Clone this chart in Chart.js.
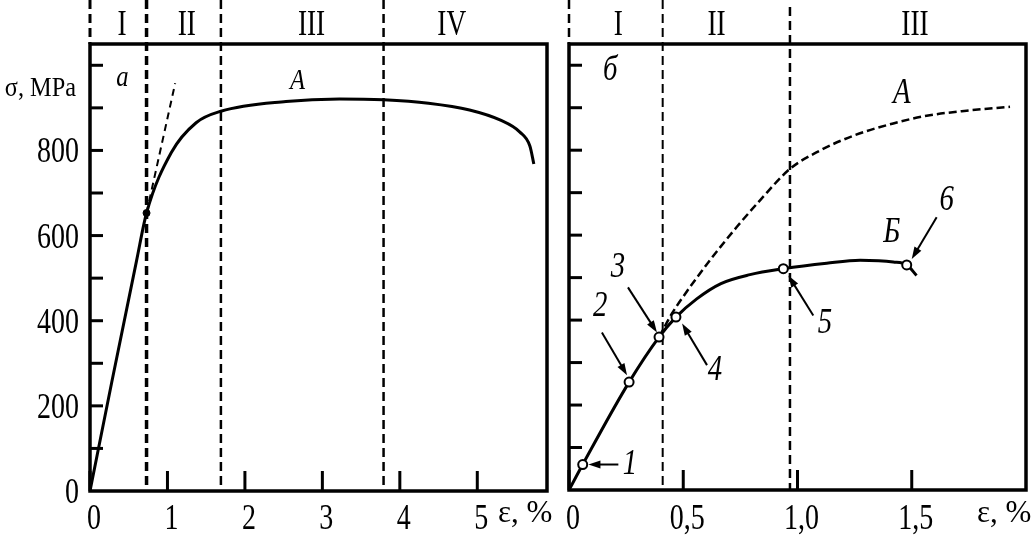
<!DOCTYPE html>
<html>
<head>
<meta charset="utf-8">
<script src="https://cdn.jsdelivr.net/npm/chart.js@4"></script>
<style>
  body { margin: 0; background: #fff; }
  #wrap { position: relative; width: 1034px; height: 538px; }
  .panel { position: absolute; top: 0; height: 538px; }
</style>
</head>
<body>
<div id="wrap">
  <div class="panel" style="left:0;width:555px"><canvas id="chartA"></canvas></div>
  <div class="panel" style="left:555px;width:479px"><canvas id="chartB"></canvas></div>
</div>
<script>
// ---- panel a : stress-strain curve A ----
const leftStrain = [0, 0.28, 0.6, 0.73, 1.05, 1.37, 1.69, 2.53, 3.22, 3.79, 4.37, 4.9, 5.3, 5.55, 5.68, 5.73];
const leftStress = [0, 255, 540, 653, 795, 865, 892, 915, 921, 919, 911, 895, 871, 843, 810, 768];
const tangentStrain = [0.73, 1.10];
const tangentStress = [653, 958];
const leftDotStrain = [0.73];
const leftDotStress = [653];
const leftZoneEdges = [0, 0.73, 1.69, 3.79];
const leftZoneNames = ["I", "II", "III", "IV"];
const leftZoneNameX = [0.415, 1.25, 2.86, 4.67];
const leftXTicks = [0, 1, 2, 3, 4, 5];
const leftXLabels = ["0", "1", "2", "3", "4", "5"];
const leftYTicks = [100, 200, 300, 400, 500, 600, 700, 800, 900, 1000];
const leftYLabels = [0, 200, 400, 600, 800];
const leftNotes = ["а", "А"];
const leftNoteX = [0.42, 2.68];
const leftNoteY = [970, 963];

// ---- panel б : curves A (dashed) and Б with points 1-6 ----
const rightStrainA = [0.394, 0.45, 0.493, 0.617, 0.734, 0.836, 0.967, 1.098, 1.244, 1.419, 1.565, 1.74, 1.93];
const rightStressA = [360, 415, 450, 541, 619, 682, 756, 799, 834, 863, 881, 893, 902];
const rightStrainB = [0, 0.06, 0.263, 0.394, 0.468, 0.559, 0.665, 0.792, 0.938, 1.128, 1.274, 1.419, 1.478, 1.521];
const rightStressB = [0, 60, 254, 360, 407, 450, 486, 507, 521, 534, 541, 537, 530, 505];
const markStrain = [0.06, 0.263, 0.394, 0.468, 0.938, 1.478];
const markStress = [60, 254, 360, 407, 521, 530];
const rightZoneEdges = [0, 0.41, 0.967];
const rightZoneNames = ["I", "II", "III"];
const rightZoneNameX = [0.216, 0.646, 1.514];
const rightXTicks = [0, 0.5, 1.0, 1.5];
const rightXLabels = ["0", "0,5", "1,0", "1,5"];
const rightYTicks = [100, 200, 300, 400, 500, 600, 700, 800, 900, 1000];
const rightNotes = ["1", "2", "3", "4", "5", "6", "Б", "А", "б"];
const rightNoteX = [0.267, 0.136, 0.214, 0.639, 1.12, 1.653, 1.412, 1.456, 0.18];
const rightNoteY = [59, 432, 524, 282, 392, 682, 607, 933, 987];
const arrowFromX = [0.216, 0.144, 0.258, 0.604, 1.069, 1.609];
const arrowFromY = [60, 371, 477, 294, 411, 642];
const arrowToX = [0.085, 0.254, 0.385, 0.495, 0.96, 1.5];
const arrowToY = [60, 270, 371, 392, 505, 544];

function toPoints(xs, ys) {
    return xs.map((x, i) => ({ x: x, y: ys[i] }));
}

// draws squeezed serif text like in the scanned figure
function drawText(ctx, str, x, y, font, align, sx, base) {
    ctx.save();
    ctx.translate(x, y);
    ctx.scale(sx, 1);
    ctx.font = font;
    ctx.fillStyle = "#000";
    ctx.textAlign = align;
    ctx.textBaseline = base || "alphabetic";
    ctx.fillText(str, 0, 0);
    ctx.restore();
}

function drawArrow(ctx, x1, y1, x2, y2) {
    let ang = Math.atan2(y2 - y1, x2 - x1);
    let len = 12, half = 4;
    ctx.save();
    ctx.strokeStyle = "#000";
    ctx.fillStyle = "#000";
    ctx.lineWidth = 2;
    ctx.beginPath();
    ctx.moveTo(x1, y1);
    ctx.lineTo(x2 - Math.cos(ang) * len * 0.8, y2 - Math.sin(ang) * len * 0.8);
    ctx.stroke();
    ctx.beginPath();
    ctx.moveTo(x2, y2);
    ctx.lineTo(x2 - Math.cos(ang) * len - Math.sin(ang) * half, y2 - Math.sin(ang) * len + Math.cos(ang) * half);
    ctx.lineTo(x2 - Math.cos(ang) * len + Math.sin(ang) * half, y2 - Math.sin(ang) * len - Math.cos(ang) * half);
    ctx.closePath();
    ctx.fill();
    ctx.restore();
}

const decorPlugin = {
    id: "decor",
    beforeDatasetsDraw(chart, args, o) {
        const ctx = chart.ctx, area = chart.chartArea, xs = chart.scales.x;
        ctx.save();
        ctx.strokeStyle = "#000";
        o.edges.forEach((v, i) => {
            let px = xs.getPixelForValue(v);
            ctx.lineWidth = o.edgeWidths[i];
            ctx.setLineDash([9, 5]);
            ctx.beginPath();
            ctx.moveTo(px, o.edgeTops[i]);
            ctx.lineTo(px, v === 0 ? area.top : area.bottom);
            ctx.stroke();
        });
        ctx.restore();
    },
    afterDraw(chart, args, o) {
        const ctx = chart.ctx, area = chart.chartArea;
        const xs = chart.scales.x, ys = chart.scales.y;
        const mainFont = '35px "Liberation Serif", "Times New Roman", serif';

        // frame
        ctx.save();
        ctx.strokeStyle = "#000";
        ctx.lineWidth = 3.5;
        ctx.setLineDash([]);
        ctx.strokeRect(area.left, area.top, area.width, area.height);

        // inward tick marks
        ctx.lineWidth = 3;
        o.yTicks.forEach(v => {
            let py = ys.getPixelForValue(v);
            ctx.beginPath();
            ctx.moveTo(area.left, py);
            ctx.lineTo(area.left + 13, py);
            ctx.stroke();
        });
        o.xTicks.forEach(v => {
            let px = xs.getPixelForValue(v);
            ctx.beginPath();
            ctx.moveTo(px, area.bottom);
            ctx.lineTo(px, area.bottom - 20);
            ctx.stroke();
        });
        ctx.restore();

        // tick labels
        (o.yLabels || []).forEach(v => {
            drawText(ctx, String(v), area.left - 11, ys.getPixelForValue(v) + 12, mainFont, "right", 0.8);
        });
        o.xTicks.forEach((v, i) => {
            drawText(ctx, o.xLabels[i], xs.getPixelForValue(v) + 4, 529, mainFont, "center", 0.8);
        });
        drawText(ctx, "ε, %", o.unitX, 522, '31px "Liberation Serif", serif', "left", 1);
        if (o.yTitle) {
            drawText(ctx, o.yTitle, 76, 96, '27px "Liberation Serif", serif', "right", 0.9);
        }

        // stage numerals above the frame
        o.zoneNames.forEach((s, i) => {
            drawText(ctx, s, xs.getPixelForValue(o.zoneNameX[i]), 35, mainFont, "center", 0.78);
        });

        // italic notes
        o.notes.forEach((s, i) => {
            drawText(ctx, s, xs.getPixelForValue(o.noteX[i]), ys.getPixelForValue(o.noteY[i]),
                o.noteFont, "center", o.noteScale, "middle");
        });

        // arrows
        (o.arrows || []).forEach(a => {
            drawArrow(ctx, xs.getPixelForValue(a[0]), ys.getPixelForValue(a[1]),
                xs.getPixelForValue(a[2]), ys.getPixelForValue(a[3]));
        });
    }
};

function baseOptions(xMax, padding, decor) {
    return {
        responsive: true,
        maintainAspectRatio: false,
        animation: false,
        layout: { padding: padding },
        scales: {
            x: { type: "linear", min: 0, max: xMax, display: false },
            y: { type: "linear", min: 0, max: 1050, display: false }
        },
        plugins: {
            legend: { display: false },
            tooltip: { enabled: false },
            decor: decor
        }
    };
}

function createLeftChart() {
    let ctx = document.getElementById("chartA").getContext("2d");
    new Chart(ctx, {
        type: "line",
        data: {
            datasets: [
                {
                    data: toPoints(leftDotStrain, leftDotStress),
                    showLine: false, pointRadius: 3.5,
                    pointBackgroundColor: "#000", pointBorderColor: "#000", order: 0
                },
                {
                    data: toPoints(leftStrain, leftStress),
                    borderColor: "#000", borderWidth: 3, pointRadius: 0,
                    borderJoinStyle: "round",
                    cubicInterpolationMode: "monotone", order: 1
                },
                {
                    data: toPoints(tangentStrain, tangentStress),
                    borderColor: "#000", borderWidth: 2, borderDash: [7, 5], pointRadius: 0, order: 2
                }
            ]
        },
        options: baseOptions(5.9, { left: 90, right: 8, top: 44, bottom: 47 }, {
            edges: leftZoneEdges,
            edgeWidths: [3, 3.5, 2.5, 2.5],
            edgeTops: [0, 0, 0, 0],
            zoneNames: leftZoneNames,
            zoneNameX: leftZoneNameX,
            xTicks: leftXTicks,
            xLabels: leftXLabels,
            yTicks: leftYTicks,
            yLabels: leftYLabels,
            yTitle: "σ, MPa",
            unitX: 498,
            notes: leftNotes,
            noteX: leftNoteX,
            noteY: leftNoteY,
            noteFont: 'italic 29px "Liberation Serif", serif',
            noteScale: 0.85
        }),
        plugins: [decorPlugin]
    });
}

function createRightChart() {
    let ctx = document.getElementById("chartB").getContext("2d");
    let arrows = arrowFromX.map((x, i) => [x, arrowFromY[i], arrowToX[i], arrowToY[i]]);
    new Chart(ctx, {
        type: "line",
        data: {
            datasets: [
                {
                    data: toPoints(markStrain, markStress),
                    showLine: false, pointRadius: 4.5, pointBorderWidth: 2,
                    pointBackgroundColor: "#fff", pointBorderColor: "#000", order: 0
                },
                {
                    data: toPoints(rightStrainB, rightStressB),
                    borderColor: "#000", borderWidth: 3, pointRadius: 0,
                    borderJoinStyle: "round",
                    cubicInterpolationMode: "monotone", order: 1
                },
                {
                    data: toPoints(rightStrainA, rightStressA),
                    borderColor: "#000", borderWidth: 2.5, borderDash: [8, 4], pointRadius: 0,
                    cubicInterpolationMode: "monotone", order: 2
                }
            ]
        },
        options: baseOptions(2.0, { left: 14, right: 8, top: 44, bottom: 48 }, {
            edges: rightZoneEdges,
            edgeWidths: [2.5, 2, 2.5],
            edgeTops: [0, 0, 7],
            zoneNames: rightZoneNames,
            zoneNameX: rightZoneNameX,
            xTicks: rightXTicks,
            xLabels: rightXLabels,
            yTicks: rightYTicks,
            unitX: 422,
            notes: rightNotes,
            noteX: rightNoteX,
            noteY: rightNoteY,
            noteFont: 'italic 36px "Liberation Serif", serif',
            noteScale: 0.8,
            arrows: arrows
        }),
        plugins: [decorPlugin]
    });
}

createLeftChart();
createRightChart();
</script>
</body>
</html>
